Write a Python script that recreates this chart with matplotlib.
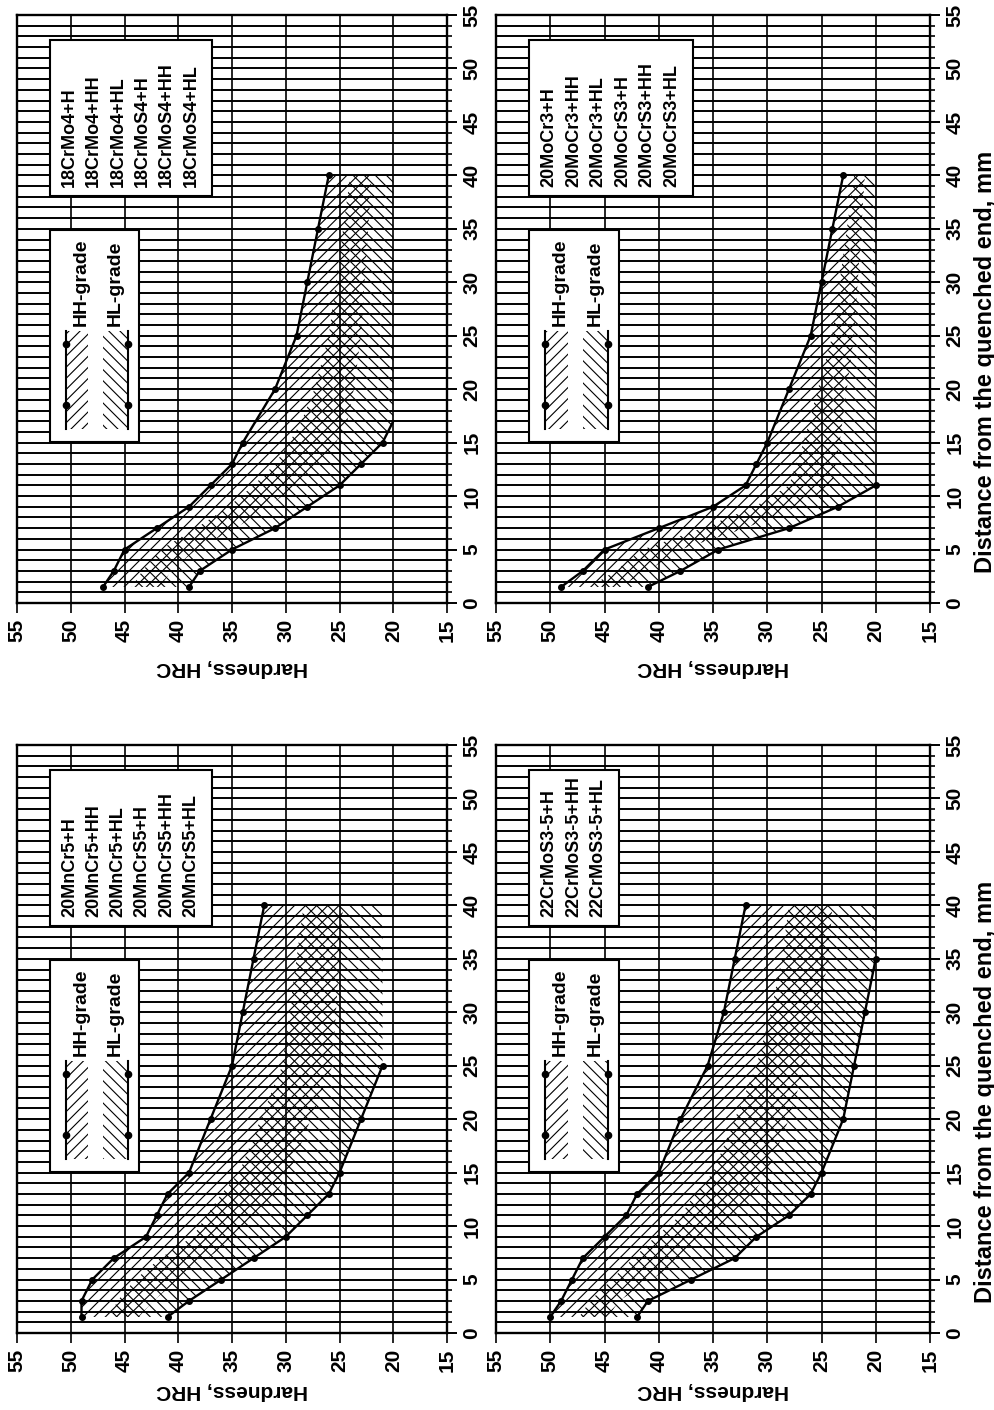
import numpy as np
import matplotlib
matplotlib.use("Agg")
import matplotlib.pyplot as plt
from matplotlib.patches import Rectangle

plt.rcParams['font.family'] = ['Liberation Sans', 'DejaVu Sans']
plt.rcParams['font.weight'] = 'bold'
plt.rcParams['hatch.linewidth'] = 0.8

# Jominy distances, mm
dist = [1.5, 3, 5, 7, 9, 11, 13, 15, 20, 25, 30, 35, 40]

# 18CrMo4 (top left)
max_18crmo4 = [47, 46, 45, 42, 39, 37, 35, 34, 31, 29, 28, 27, 26]
min_18crmo4_d = [1.5, 3, 5, 7, 9, 11, 13, 15, 17]
min_18crmo4 = [39, 38, 35, 31, 28, 25, 23, 21, 20]
names_18crmo4 = ["18CrMo4+H", "18CrMo4+HH", "18CrMo4+HL",
                 "18CrMoS4+H", "18CrMoS4+HH", "18CrMoS4+HL"]

# 20MoCr3 (top right)
max_20mocr3 = [49, 47, 45, 40, 35, 32, 31, 30, 28, 26, 25, 24, 23]
min_20mocr3_d = [1.5, 3, 5, 7, 9, 11]
min_20mocr3 = [41, 38, 34.5, 28, 23.5, 20]
names_20mocr3 = ["20MoCr3+H", "20MoCr3+HH", "20MoCr3+HL",
                 "20MoCrS3+H", "20MoCrS3+HH", "20MoCrS3+HL"]

# 20MnCr5 (bottom left)
max_20mncr5 = [49, 49, 48, 46, 43, 42, 41, 39, 37, 35, 34, 33, 32]
min_20mncr5_d = [1.5, 3, 5, 7, 9, 11, 13, 15, 20, 25]
min_20mncr5 = [41, 39, 36, 33, 30, 28, 26, 25, 23, 21]
names_20mncr5 = ["20MnCr5+H", "20MnCr5+HH", "20MnCr5+HL",
                 "20MnCrS5+H", "20MnCrS5+HH", "20MnCrS5+HL"]

# 22CrMoS3-5 (bottom right)
max_22crmos35 = [50, 49, 48, 47, 45, 43, 42, 40, 38, 35.5, 34, 33, 32]
min_22crmos35_d = [1.5, 3, 5, 7, 9, 11, 13, 15, 20, 25, 30, 35]
min_22crmos35 = [42, 41, 37, 33, 31, 28, 26, 25, 23, 22, 21, 20]
names_22crmos35 = ["22CrMoS3-5+H", "22CrMoS3-5+HH", "22CrMoS3-5+HL"]

# lowest hardness the band is drawn down to
floors = [20, 20, 21, 20]

W, H = 994, 1410
fig = plt.figure(figsize=(W / 100, H / 100), dpi=100)

cols = [(17, 430), (496, 434)]     # left px, width px
rows = [(15, 603), (745, 1333)]    # top px, bottom px


def grade_box(ax, names):
    n = len(names)
    x0, step = 0.076, 0.0565
    x1 = x0 + 0.046 + step * (n - 1) + 0.049
    ax.add_patch(Rectangle((x0, 0.693), x1 - x0, 0.264, transform=ax.transAxes,
                           facecolor='white', edgecolor='black', lw=1.5, zorder=5))
    for i, name in enumerate(names):
        ax.text(x0 + 0.046 + step * i, 0.708, name, transform=ax.transAxes,
                rotation=90, ha='center', va='bottom', fontsize=13,
                fontweight='bold', zorder=6)


def grade_key(ax):
    ax.add_patch(Rectangle((0.076, 0.273), 0.207, 0.362, transform=ax.transAxes,
                           facecolor='white', edgecolor='black', lw=1.5, zorder=5))
    # HH-grade swatch
    ax.add_patch(Rectangle((0.114, 0.296), 0.051, 0.166, transform=ax.transAxes,
                           facecolor='white', edgecolor='black', lw=0,
                           hatch='///', zorder=6))
    ax.plot([0.114] * 4, [0.296, 0.336, 0.44, 0.462], transform=ax.transAxes,
            color='black', lw=1.5, marker='o', ms=4.5, markevery=[1, 2], zorder=7)
    ax.text(0.149, 0.471, 'HH-grade', transform=ax.transAxes, rotation=90,
            ha='center', va='bottom', fontsize=14, fontweight='bold', zorder=7)
    # HL-grade swatch
    ax.add_patch(Rectangle((0.200, 0.296), 0.058, 0.166, transform=ax.transAxes,
                           facecolor='white', edgecolor='black', lw=0,
                           hatch='\\\\\\', zorder=6))
    ax.plot([0.258] * 4, [0.296, 0.336, 0.44, 0.462], transform=ax.transAxes,
            color='black', lw=1.5, marker='o', ms=4.5, markevery=[1, 2], zorder=7)
    ax.text(0.228, 0.471, 'HL-grade', transform=ax.transAxes, rotation=90,
            ha='center', va='bottom', fontsize=14, fontweight='bold', zorder=7)


panels = [
    (0, 0, max_18crmo4, min_18crmo4_d, min_18crmo4, names_18crmo4),
    (0, 1, max_20mocr3, min_20mocr3_d, min_20mocr3, names_20mocr3),
    (1, 0, max_20mncr5, min_20mncr5_d, min_20mncr5, names_20mncr5),
    (1, 1, max_22crmos35, min_22crmos35_d, min_22crmos35, names_22crmos35),
]

for k, (r, c, hmax, dmin, hmin, names) in enumerate(panels):
    x0, w = cols[c]
    top, bot = rows[r]
    ax = fig.add_axes([x0 / W, 1 - bot / H, w / W, (bot - top) / H])

    # hatched HH / HL bands (upper and lower two thirds of the H band)
    xf = np.union1d(dist, dmin)
    hi = np.interp(xf, dist, hmax)
    lo = np.interp(xf, dmin, hmin, right=floors[k])
    third = (hi - lo) / 3
    ax.fill_betweenx(xf, lo + third, hi, facecolor='none', edgecolor='black',
                     lw=0, hatch='///', zorder=2)
    ax.fill_betweenx(xf, lo, hi - third, facecolor='none', edgecolor='black',
                     lw=0, hatch='\\\\\\', zorder=2)

    ax.plot(hmax, dist, color='black', lw=1.7, marker='o', ms=4, zorder=4)
    marks = [i for i, d in enumerate(dmin) if d in dist]
    ax.plot(hmin, dmin, color='black', lw=1.7, marker='o', ms=4,
            markevery=marks, zorder=4)

    grade_box(ax, names)
    grade_key(ax)

    ax.set_xlim(55, 15)
    ax.set_ylim(0, 55)
    ax.set_xticks(range(15, 56, 5))
    ax.set_yticks(range(0, 56, 5))
    ax.set_yticks(range(0, 56, 1), minor=True)
    ax.set_axisbelow(True)
    ax.grid(axis='y', which='both', color='black', lw=1.4)
    ax.grid(axis='x', which='major', color='black', lw=1.2)
    ax.yaxis.tick_right()
    ax.tick_params(axis='x', length=7, width=1.2, pad=4, labelsize=15,
                   labelrotation=90)
    ax.tick_params(axis='y', which='major', length=7, width=1.4, pad=4,
                   labelsize=15, labelrotation=90)
    ax.tick_params(axis='y', which='minor', length=3.5, width=1.2)
    for lbl in ax.get_yticklabels():
        lbl.set_va('center')
        lbl.set_fontweight('bold')
    for lbl in ax.get_xticklabels():
        lbl.set_fontweight('bold')
    for sp in ax.spines.values():
        sp.set_linewidth(1.7)

    ax.text(0.5, -0.109 if r == 0 else -0.098, 'Hardness, HRC',
            transform=ax.transAxes, rotation=180, ha='center', va='center',
            fontsize=15, fontweight='bold')
    if c == 1:
        ax.text(1.127, 0.41, 'Distance from the quenched end, mm',
                transform=ax.transAxes, rotation=90, ha='center', va='center',
                fontsize=17, fontweight='bold')

fig.savefig('out.png', dpi=100)
